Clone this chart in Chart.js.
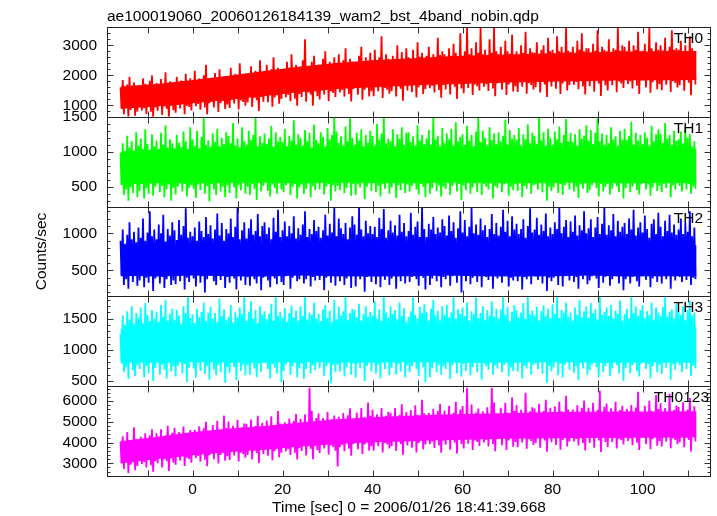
<!DOCTYPE html>
<html><head><meta charset="utf-8">
<script src="https://cdn.jsdelivr.net/npm/chart.js@4.4.1/dist/chart.umd.min.js"></script>
<style>html,body{margin:0;padding:0;background:#fff;}#wrap{width:717px;height:516px;}</style>
</head><body><div id="wrap"><canvas id="c" width="717" height="516"></canvas></div>
<script>
const TITLE = "ae100019060_20060126184139_wam2_bst_4band_nobin.qdp";
const X_LABEL = "Time [sec] 0 = 2006/01/26 18:41:39.668";
const Y_LABEL = "Counts/sec";
const BAND_NAMES = ["TH0", "TH1", "TH2", "TH3", "TH0123"];
const BAND_COLORS = ["#ff0000", "#00ff00", "#0000ff", "#00ffff", "#ff00ff"];
const X_TICKS = [0, 20, 40, 60, 80, 100];
const Y_TICKS = [[1000, 2000, 3000], [500, 1000, 1500], [500, 1000], [500, 1000, 1500], [3000, 4000, 5000, 6000]];
const T_START = -16;   // time of first sample; samples every 0.5 s (high at t, low at t+0.25)
const CORE_TIMES = [-16,-8,0,8,16,24,32,40,48,56,64,72,80,88,96,104,112];
const Y_MIN = [623, 215, 146, 415, 2390];
const Y_MAX = [3610, 1500, 1362, 1857, 6720];
const Y_MAJOR = [1000, 500, 500, 500, 1000];
const Y_MINOR = [200, 100, 100, 100, 200];

// TH0
const th0Hi = [1600,1850,1520,1700,1950,1580,1760,1640, 1680,1540,1900,1720,1600,1820,2000,1650,
  1750,1620,1880,1700,2100,1660,1800,1590, 1720,1950,1680,1830,1640,2050,1760,1900,
  1820,2150,1750,1900,1700,2000,2350,1800, 1880,1760,2080,1850,2200,1790,1960,1850,
  1950,2250,1860,2050,1900,2400,1980,1880, 2050,1940,2300,2020,2150,1980,2500,2080,
  2100,2350,2040,2200,2600,2080,2250,2150, 2200,2120,2450,2250,2700,2180,2350,2150,
  2250,2500,3200,2300,2200,2450,2650,2280, 2350,2250,2550,2800,2330,2450,2300,2600,
  2400,2700,2350,2500,2900,2380,2550,2450, 2450,2380,2650,2950,2480,2600,2400,2750,
  2500,2850,2420,2600,3300,2480,2700,2550, 2450,2650,2550,3000,2520,2780,2480,2900,
  2600,2500,2850,2550,3100,2620,2750,2500, 2650,2950,2550,2700,2600,3250,2680,2800,
  2700,2580,2900,2650,3050,2750,2600,3400, 2650,2800,3600,2700,2900,2620,3100,2750,
  3600,2700,2850,2650,3200,2750,3600,2800, 2700,2950,2650,3150,2800,2720,3350,2680,
  2800,2680,3000,2750,3450,2700,2900,2780, 2750,3100,2700,2850,3000,2720,3250,2800,
  2850,2700,3300,2800,2950,2760,3600,2820, 2780,2950,2720,3150,2850,3400,2800,2900,
  2900,2750,3050,2820,3500,2780,2950,2850, 2800,3200,2760,2900,2850,3600,2820,3000,
  2950,2800,3150,2780,3000,2850,3450,2800, 2820,3050,2780,3600,2900,2800,3100,2850,
  3000,2830,3250,2800,2950,3500,2850,2900, 2850,3150,2800,3000,2780,3300,2900,2750];
const th0Lo = [890,710,940,570,850,915,660,800, 950,835,905,720,975,790,580,930,
  825,985,680,965,895,565,990,845, 755,1020,900,1045,710,995,950,830,
  1095,975,1050,855,1120,930,710,1075, 1125,930,1175,780,1075,1150,880,1030,
  915,1190,1065,1215,865,1165,1115,990, 1100,1280,950,1255,1175,820,1280,1125,
  1315,1110,1370,955,1265,1345,1060,1215, 1405,1275,1355,1145,1435,1225,990,1380,
  1285,1470,1125,1445,1365,990,1470,1310, 1200,1500,1365,1525,1145,1470,1415,1280,
  1570,1435,1515,1295,1600,1380,1135,1545, 1580,1360,1635,1190,1525,1605,1300,1470,
  1305,1610,1470,1640,1250,1580,1525,1390, 1470,1665,1300,1635,1555,1160,1665,1495,
  1665,1440,1720,1270,1605,1690,1380,1550, 1715,1570,1655,1430,1740,1515,1260,1685,
  1535,1735,1365,1705,1620,1220,1735,1565, 1405,1725,1580,1755,1350,1695,1640,1495,
  1770,1625,1710,1480,1800,1565,1305,1740, 1755,1520,1815,1345,1695,1785,1465,1640,
  1445,1770,1620,1795,1390,1740,1680,1535, 1605,1810,1430,1780,1695,1285,1810,1635,
  1795,1560,1855,1385,1735,1825,1500,1675, 1835,1690,1780,1540,1865,1630,1365,1810,
  1640,1845,1460,1815,1730,1315,1845,1670, 1500,1825,1675,1855,1440,1795,1735,1585,
  1865,1715,1805,1565,1895,1655,1385,1835, 1835,1595,1895,1420,1775,1865,1540,1715,
  1510,1840,1690,1870,1450,1810,1750,1600, 1670,1880,1490,1850,1760,1340,1880,1700];
const th0CoreHi = [1630,1715,1845,1990,2145,2295,2415,2500,2565,2625,2670,2700,2735,2765,2785,2800,2810];
const th0CoreLo = [890,965,1075,1190,1315,1445,1545,1610,1665,1705,1740,1770,1795,1815,1835,1840,1850];

// TH1
const th1Hi = [980,1120,1010,1230,1060,1150,1000,1280, 1090,1190,1040,1320,1110,1020,1250,1080,
  1160,1040,1270,1100,1380,1060,1180,1120, 1050,1240,1130,1070,1290,1150,1020,1350,
  1180,1090,1300,1050,1210,1480,1100,1160, 1070,1260,1140,1330,1080,1200,1110,1280,
  1230,1120,1410,1090,1190,1060,1350,1150, 1100,1300,1170,1240,1500,1080,1220,1130,
  1260,1110,1190,1370,1070,1280,1150,1210, 1140,1330,1080,1230,1160,1450,1100,1250,
  1200,1090,1310,1150,1270,1060,1390,1170, 1120,1280,1210,1080,1340,1180,1240,1500,
  1290,1130,1220,1090,1360,1150,1480,1200, 1100,1270,1160,1320,1080,1240,1130,1300,
  1230,1090,1400,1170,1260,1500,1120,1190, 1150,1320,1080,1250,1190,1350,1100,1270,
  1280,1140,1220,1090,1380,1160,1240,1110, 1190,1310,1100,1500,1170,1230,1080,1340,
  1120,1260,1180,1330,1090,1420,1150,1210, 1250,1100,1370,1160,1240,1080,1290,1500,
  1140,1300,1200,1090,1350,1170,1260,1110, 1280,1150,1230,1460,1100,1310,1190,1240,
  1170,1340,1090,1250,1180,1390,1120,1270, 1230,1110,1500,1160,1280,1090,1330,1200,
  1100,1290,1180,1360,1130,1240,1470,1150, 1270,1140,1250,1090,1320,1190,1230,1380,
  1160,1310,1110,1270,1500,1150,1260,1100, 1240,1120,1350,1180,1220,1090,1300,1170,
  1330,1170,1230,1430,1100,1270,1160,1240, 1110,1280,1200,1090,1370,1150,1250,1320,
  1260,1130,1410,1190,1240,1100,1300,1160, 1180,1290,1120,1350,1200,1250,1080,1150];
const th1Lo = [520,380,460,300,490,410,560,350, 440,540,330,480,400,570,370,500,
  560,420,510,350,460,530,300,480, 390,500,570,430,540,360,480,520,
  470,340,530,450,580,400,510,290, 540,460,380,560,430,500,350,520,
  410,570,490,330,520,450,590,400, 500,380,540,470,310,560,430,510,
  560,440,360,530,480,400,570,460, 420,520,580,380,500,540,330,490,
  530,400,470,560,350,510,450,580, 460,570,390,500,540,300,520,430,
  510,450,560,410,480,580,370,540, 380,530,490,570,320,500,550,440,
  560,420,510,360,540,470,590,400, 490,580,340,520,450,560,410,530,
  430,510,570,460,390,540,500,350, 550,400,480,590,440,520,360,500,
  470,560,380,510,580,430,540,310, 520,450,570,400,490,550,420,580,
  380,540,500,460,570,330,510,480, 560,420,530,590,370,500,450,540,
  440,580,350,510,470,560,400,520, 530,460,570,420,550,300,500,440,
  490,560,410,540,380,520,580,460, 570,430,500,340,530,470,550,410,
  450,520,580,480,360,540,430,500, 540,390,470,560,510,420,570,330,
  480,550,420,500,580,450,390,530, 560,460,530,370,490,570,440,510,
  420,540,480,590,350,520,460,560, 510,430,570,460,540,400,500,470];
const th1CoreHi = [1000,1030,1040,1040,1050,1040,1050,1040,1040,1050,1040,1040,1040,1050,1040,1040,1040];
const th1CoreLo = [530,550,550,555,560,550,560,555,550,560,555,550,555,560,550,555,550];

// TH2
const th2Hi = [900,1050,860,980,1150,920,1020,880, 1080,940,1200,900,1010,1300,960,1050,
  920,1120,1000,1250,890,1060,970,1150, 1040,910,1180,980,1100,1340,940,1020,
  960,1080,900,1160,1030,950,1220,990, 1110,930,1050,1270,970,1140,900,1060,
  1000,1200,950,1090,1350,920,1040,1150, 930,1070,1190,980,1030,1260,960,1100,
  1150,990,1080,920,1210,1020,1320,950, 1040,1160,960,1100,1000,1230,930,1070,
  980,1120,1300,950,1060,990,1180,1030, 1090,940,1040,1250,970,1130,1010,1350,
  960,1200,1070,990,1140,920,1080,1230, 1120,980,1350,1050,960,1170,1000,1100,
  990,1090,950,1210,1060,1330,940,1040, 1170,1010,1110,970,1250,1020,1140,960,
  1030,1280,980,1090,1160,950,1350,1060, 950,1130,1050,1220,990,1080,1010,1190,
  1100,970,1240,1030,1150,940,1070,1300, 1010,1180,960,1090,1350,1000,1120,980,
  1200,1040,1110,950,1060,1260,990,1140, 970,1090,1320,1020,1170,960,1230,1050,
  1130,990,1060,1190,940,1100,1340,1010, 1050,1210,980,1120,1030,1270,960,1080,
  990,1150,1060,1350,1000,1090,1180,950, 1160,1020,1240,970,1110,1040,1300,1000,
  1070,1190,950,1080,1220,990,1130,1350, 980,1110,1040,1260,960,1170,1020,1090,
  1140,990,1200,1050,1320,970,1080,1150, 1010,1240,1060,940,1130,1190,990,1280,
  1090,960,1170,1030,1250,1010,1120,980, 1050,1200,990,1140,1020,1300,960,1080];
const th2Lo = [420,300,380,250,440,340,460,290, 360,450,270,400,330,470,220,390,
  450,320,410,260,380,440,300,360, 310,430,350,470,240,400,340,450,
  390,280,460,330,420,200,380,440, 460,350,300,430,370,450,260,410,
  330,470,390,240,440,360,420,300, 410,290,450,380,320,460,230,400,
  450,360,270,430,390,310,470,340, 300,420,460,250,400,440,350,380,
  440,320,380,470,280,410,360,450, 370,460,230,400,440,330,420,290,
  420,350,450,300,390,470,260,430, 280,440,380,460,210,410,450,340,
  460,310,420,270,440,370,470,300, 390,450,250,420,350,460,320,440,
  340,410,470,380,290,440,400,240, 450,300,390,460,350,420,270,410,
  380,460,290,420,470,330,440,200, 430,350,460,310,400,450,340,470,
  270,440,410,370,460,250,420,390, 460,330,430,470,280,400,360,440,
  350,470,240,410,380,450,310,430, 420,370,460,320,440,220,400,350,
  400,450,300,430,280,420,470,360, 460,340,410,250,430,380,450,310,
  360,420,470,390,260,440,330,410, 440,290,380,460,420,320,470,230,
  380,450,320,410,470,350,280,430, 460,370,430,270,390,460,340,420,
  320,440,380,470,250,420,360,450, 410,340,460,370,440,300,400,380];
const th2CoreHi = [830,850,840,855,840,850,835,850,855,840,850,840,855,850,840,850,840];
const th2CoreLo = [425,415,430,420,415,430,420,415,420,430,420,415,420,430,415,420,420];

// TH3
const th3Hi = [1250,1550,1400,1620,1480,1700,1420,1590, 1520,1680,1430,1750,1560,1460,1640,1500,
  1610,1450,1720,1530,1800,1470,1580,1660, 1480,1640,1550,1420,1700,1590,1850,1510,
  1570,1430,1660,1520,1610,1760,1460,1600, 1690,1500,1590,1450,1820,1540,1650,1480,
  1530,1720,1440,1600,1520,1680,1570,1850, 1460,1610,1780,1500,1640,1430,1700,1560,
  1620,1490,1580,1740,1470,1850,1540,1610, 1510,1670,1450,1590,1710,1520,1630,1470,
  1700,1540,1850,1480,1600,1560,1760,1500, 1580,1460,1650,1720,1510,1630,1440,1800,
  1490,1690,1550,1620,1850,1480,1590,1660, 1640,1520,1740,1470,1580,1700,1530,1610,
  1550,1780,1500,1650,1460,1850,1600,1520, 1700,1580,1640,1490,1760,1540,1670,1450,
  1530,1620,1850,1560,1500,1690,1590,1730, 1610,1470,1660,1800,1550,1630,1480,1700,
  1560,1720,1520,1600,1850,1500,1650,1580, 1680,1540,1760,1470,1620,1570,1840,1510,
  1590,1700,1480,1640,1550,1780,1530,1660, 1500,1650,1850,1560,1690,1460,1610,1720,
  1640,1520,1600,1750,1490,1850,1570,1630, 1550,1690,1470,1620,1710,1540,1660,1500,
  1730,1580,1850,1510,1640,1600,1760,1530, 1600,1470,1680,1560,1800,1520,1620,1700,
  1510,1750,1590,1650,1480,1850,1560,1610, 1680,1540,1720,1500,1630,1580,1790,1470,
  1570,1660,1500,1850,1590,1700,1540,1640, 1720,1510,1620,1560,1760,1480,1680,1600,
  1540,1690,1850,1530,1610,1650,1500,1740, 1620,1560,1700,1480,1640,1790,1550,1600];
const th3Lo = [780,640,720,530,800,670,580,750, 690,810,560,740,620,830,500,710,
  820,600,760,680,540,790,650,730, 570,740,830,620,770,480,710,800,
  700,550,790,660,820,610,740,520, 810,680,590,760,640,840,470,720,
  630,790,720,510,800,660,760,590, 750,600,820,700,560,780,640,830,
  840,690,540,770,710,620,800,480, 660,760,820,600,730,790,560,700,
  780,530,690,840,620,750,670,810, 700,820,580,730,790,460,760,640,
  760,650,810,570,720,840,600,780, 550,790,700,830,500,740,810,650,
  820,620,760,540,800,690,840,590, 710,840,600,770,650,820,560,750,
  640,730,830,690,580,800,720,480, 800,560,700,840,640,760,600,730,
  690,820,530,750,830,620,790,570, 770,660,840,590,720,800,640,820,
  520,780,730,680,830,600,750,700, 830,640,760,840,570,720,660,790,
  650,830,540,740,700,810,600,760, 780,690,820,620,800,470,740,650,
  720,800,590,780,550,760,840,680, 840,630,740,510,790,700,810,600,
  670,760,830,720,560,790,640,740, 790,580,700,820,750,620,830,500,
  710,800,620,750,840,660,570,780, 820,690,770,540,730,830,640,760,
  610,790,710,840,520,770,680,810, 750,640,820,690,790,580,740,700];
const th3CoreHi = [1330,1360,1370,1360,1350,1370,1360,1375,1360,1350,1370,1360,1350,1370,1360,1350,1360];
const th3CoreLo = [800,790,805,795,790,805,795,790,805,795,790,795,805,795,790,795,795];

// TH0123
const th0123Hi = [4040,4310,3975,4510,4110,4010,4745,4175, 4110,4275,4175,4445,4075,4345,4645,4140,
  4445,4210,4645,4240,4345,4810,4210,4475, 4710,4340,4510,4310,4780,4375,4445,4610,
  4440,4615,4510,4790,4405,4685,5000,4475, 4565,4845,4495,5055,4635,4530,5300,4705,
  5020,4635,4810,4600,5090,4670,4740,4915, 4905,4660,5115,4695,4800,5290,4660,4940,
  4770,5060,4700,5275,4840,4735,5525,4915, 4805,4985,4875,5165,4770,5055,5380,4840,
  5145,4895,5360,4930,6650,5540,4895,5180, 5405,5010,5190,4975,5480,5045,5120,5300,
  5055,5245,5130,5430,5020,5320,5655,5095, 5145,5445,5070,5670,5220,5105,5930,5295,
  5595,5185,5370,5145,5670,5220,5295,5485, 5440,5175,5665,5215,5325,5850,5175,5475,
  5260,5565,5180,5795,5335,5220,6065,5410, 5250,5440,5325,5635,5210,5520,5865,5290,
  5550,5280,5780,5320,5435,5970,5280,5590, 5760,5340,6650,5300,5840,5375,5455,5645,
  5320,5510,5395,5705,5280,6650,5935,5360, 5380,5685,5300,5915,5455,5340,6185,5530,
  5815,5395,5585,5355,6400,5430,5510,5700, 5640,5370,5870,5410,5525,6060,5370,5675,
  5435,5750,5355,5985,5510,5395,6260,5590, 5405,5600,5480,5800,5365,5680,6035,5445,
  5685,5410,5920,5450,5565,6500,5410,5725, 5885,5455,5650,5415,5965,5490,5570,5770,
  5420,5615,5495,5815,5380,5695,6450,5460, 5465,5780,5385,6015,5540,5425,6290,5620,
  5900,5470,5665,5430,6350,5505,5585,5785, 5710,5435,5945,5475,5590,6145,5435,5750];
const th0123Lo = [3005,2735,3070,2535,2935,3040,2670,2870, 3140,2970,3070,2800,3170,2905,2600,3105,
  3005,3240,2800,3205,3105,2635,3240,3035, 2935,3305,3135,3340,2870,3270,3205,3035,
  3425,3250,3355,3075,3460,3180,2865,3390, 3480,3200,3550,2990,3410,3515,3130,3340,
  3165,3550,3375,3585,3095,3515,3445,3270, 3400,3645,3190,3610,3505,3015,3645,3435,
  3655,3365,3725,3150,3580,3690,3295,3510, 3760,3580,3690,3400,3795,3510,3185,3725,
  3600,3850,3380,3815,3705,3200,3850,3635, 3500,3895,3715,3930,3425,3860,3785,3605,
  2850,3780,3890,3590,4005,3705,3365,3930, 3980,3680,4055,3455,3905,4015,3605,3830,
  3605,4020,3830,4055,3530,3980,3905,3720, 3825,4085,3600,4050,3935,3410,4085,3860,
  4065,3755,4140,3525,3985,4100,3680,3910, 4130,3940,4055,3745,4170,3865,3515,4095,
  3895,4160,3660,4125,4010,3470,4160,3930, 3720,4145,3950,4180,3645,4105,4030,3835,
  4200,4010,4125,3815,4240,3935,3585,4165, 4185,3875,4260,3645,4105,4220,3800,4030,
  3775,4200,4005,4235,3700,4160,4085,3890, 3985,4250,3750,4215,4100,3560,4250,4020,
  4210,3890,4285,3655,4130,4245,3815,4050, 4255,4060,4180,3860,4295,3980,3625,4220,
  3985,4260,3750,4225,4105,3550,4260,4025, 3795,4230,4030,4265,3715,4190,4110,3910,
  4270,4075,4195,3875,4310,3995,3640,4235, 4240,3920,4315,3685,4160,4275,3845,4080,
  3810,4245,4045,4280,3730,4205,4125,3925, 4010,4285,3775,4250,4130,3575,4285,4050];
const th0123CoreHi = [4065,4275,4510,4670,4805,4965,5130,5220,5295,5355,5395,5430,5470,5485,5495,5505,5510];
const th0123CoreLo = [2995,3205,3390,3550,3655,3815,3930,4020,4065,4125,4165,4200,4210,4225,4235,4245,4250];

const SERIES = [
  {hi: th0Hi, lo: th0Lo, coreHi: th0CoreHi, coreLo: th0CoreLo},
  {hi: th1Hi, lo: th1Lo, coreHi: th1CoreHi, coreLo: th1CoreLo},
  {hi: th2Hi, lo: th2Lo, coreHi: th2CoreHi, coreLo: th2CoreLo},
  {hi: th3Hi, lo: th3Lo, coreHi: th3CoreHi, coreLo: th3CoreLo},
  {hi: th0123Hi, lo: th0123Lo, coreHi: th0123CoreHi, coreLo: th0123CoreLo}
];

function samples(hi, lo) {
  const pts = [];
  for (let j = 0; j < hi.length; j++) {
    pts.push({x: T_START + j * 0.5, y: hi[j]});
    pts.push({x: T_START + j * 0.5 + 0.25, y: lo[j]});
  }
  return pts;
}
function coreLine(vals) { return vals.map((v, i) => ({x: CORE_TIMES[i], y: v})); }

const FONT = "'Liberation Sans', Arial, Helvetica, sans-serif";
const FS = 15.5;
Chart.defaults.font.family = FONT;
Chart.defaults.font.size = FS;
Chart.defaults.color = '#000';

const datasets = [];
SERIES.forEach((s, i) => {
  const col = BAND_COLORS[i];
  const common = {yAxisID: 'y' + i, pointRadius: 0, pointHoverRadius: 0, tension: 0};
  datasets.push(Object.assign({label: BAND_NAMES[i] + ' core low', data: coreLine(s.coreLo), borderWidth: 0, borderColor: col, fill: false}, common));
  datasets.push(Object.assign({label: BAND_NAMES[i] + ' core high', data: coreLine(s.coreHi), borderWidth: 0, borderColor: col, backgroundColor: col, fill: '-1'}, common));
  datasets.push(Object.assign({label: BAND_NAMES[i], data: samples(s.hi, s.lo), borderWidth: 1.8, borderColor: col, borderJoinStyle: 'bevel', fill: false}, common));
});

function yScale(i) {
  return {
    type: 'linear', position: 'left', stack: 'panels', stackWeight: 1,
    min: Y_MIN[i], max: Y_MAX[i],
    grid: {display: false, drawTicks: false}, border: {display: false},
    afterBuildTicks: s => { s.ticks = Y_TICKS[i].map(v => ({value: v})); },
    ticks: {autoSkip: false, padding: 10, color: '#000', font: {size: FS}, callback: v => String(v)},
    title: i === 2 ? {display: true, text: Y_LABEL, color: '#000', font: {size: FS}, padding: {top: 32, bottom: 0}} : {display: false},
    afterFit: s => { s.width = 107; }
  };
}
const scales = {};
for (let i = 4; i >= 0; i--) scales['y' + i] = yScale(i);
scales.x = {
  type: 'linear', position: 'bottom', min: -19, max: 115.2,
  grid: {display: false, drawTicks: false}, border: {display: false},
  afterBuildTicks: s => { s.ticks = X_TICKS.map(v => ({value: v})); },
  ticks: {autoSkip: false, maxRotation: 0, padding: 4, color: '#000', font: {size: FS}, callback: v => String(v)},
  title: {display: true, text: X_LABEL, color: '#000', font: {size: FS}, padding: {top: 0, bottom: -1}},
  afterFit: s => { s.height = 40; }
};

const panelClip = {
  id: 'panelClip',
  beforeDatasetDraw(chart, args) {
    const ds = chart.data.datasets[args.index];
    const ys = chart.scales[ds.yAxisID];
    const ca = chart.chartArea;
    chart.ctx.save();
    chart.ctx.beginPath();
    chart.ctx.rect(ca.left, ys.top, ca.right - ca.left, ys.bottom - ys.top);
    chart.ctx.clip();
  },
  afterDatasetDraw(chart) { chart.ctx.restore(); }
};

const decor = {
  id: 'decor',
  afterDraw(chart) {
    const ctx = chart.ctx, ca = chart.chartArea, xs = chart.scales.x;
    const L = Math.round(ca.left) + 0.5, R = Math.round(ca.right) - 0.5;
    ctx.save();
    ctx.strokeStyle = '#333';
    ctx.lineWidth = 1;
    for (let i = 0; i < 5; i++) {
      const ys = chart.scales['y' + i];
      const T = Math.round(ys.top) + 0.5, B = Math.round(ys.bottom) + 0.5;
      ctx.beginPath();
      for (let v = -10; v <= 110; v += 10) {
        const px = Math.round(xs.getPixelForValue(v)) + 0.5;
        ctx.moveTo(px, T); ctx.lineTo(px, T + 6);
        ctx.moveTo(px, B); ctx.lineTo(px, B - 6);
      }
      const start = Math.ceil(Y_MIN[i] / Y_MINOR[i]) * Y_MINOR[i];
      for (let v = start; v <= Y_MAX[i]; v += Y_MINOR[i]) {
        const py = Math.round(ys.getPixelForValue(v)) + 0.5;
        const len = (v % Y_MAJOR[i] === 0) ? 6 : 3;
        ctx.moveTo(L, py); ctx.lineTo(L + len, py);
        ctx.moveTo(R, py); ctx.lineTo(R - len, py);
      }
      ctx.stroke();
    }
    ctx.strokeStyle = '#222';
    for (let i = 0; i < 5; i++) {
      const ys = chart.scales['y' + i];
      const T = Math.round(ys.top) + 0.5, B = Math.round(ys.bottom) + 0.5;
      ctx.strokeRect(L, T, R - L, B - T);
    }
    ctx.fillStyle = '#000';
    ctx.font = FS + 'px ' + FONT;
    ctx.textBaseline = 'alphabetic';
    ctx.textAlign = 'left';
    ctx.fillText(TITLE, 107, 20.5);
    for (let i = 0; i < 5; i++) {
      const ys = chart.scales['y' + i];
      ctx.textAlign = 'right';
      ctx.fillText(BAND_NAMES[i], i === 4 ? 709 : 703, ys.top + 16);
    }
    ctx.restore();
  }
};

new Chart(document.getElementById('c'), {
  type: 'line',
  data: {datasets},
  options: {
    responsive: false, animation: false, events: [],
    layout: {padding: {top: 27, right: 6, left: 0, bottom: 0}},
    plugins: {legend: {display: false}, tooltip: {enabled: false}, title: {display: false}},
    scales
  },
  plugins: [panelClip, decor]
});
</script></body></html>
